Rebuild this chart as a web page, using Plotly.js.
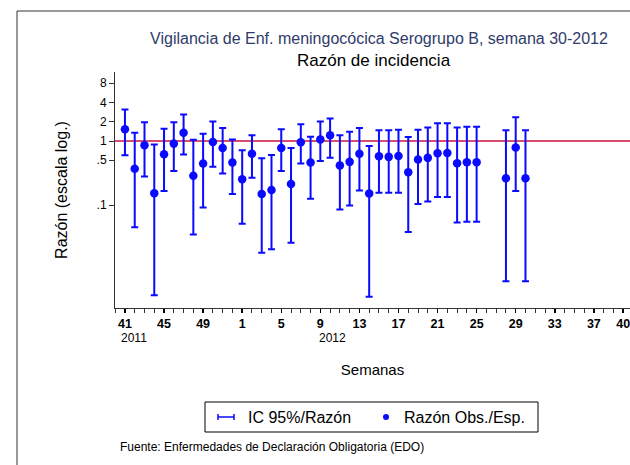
<!DOCTYPE html>
<html>
<head>
<meta charset="utf-8">
<script src="https://cdn.plot.ly/plotly-3.0.1.min.js"></script>
<style>
  html, body { margin: 0; padding: 0; background: #ffffff; }
  #chart { width: 630px; height: 465px; }
</style>
</head>
<body>
<div id="chart"></div>
<script>
// ---- Data ----
const semanas = [41,42,43,44,45,46,47,48,49,50,51,52,
                 1,2,3,4,5,6,7,8,9,10,11,12,13,14,15,16,17,18,19,20,21,22,23,24,25,
                 28,29,30];
const anios   = [2011,2011,2011,2011,2011,2011,2011,2011,2011,2011,2011,2011,
                 2012,2012,2012,2012,2012,2012,2012,2012,2012,2012,2012,2012,2012,2012,2012,2012,2012,2012,2012,2012,2012,2012,2012,2012,2012,
                 2012,2012,2012];
const razon   = [1.52,0.37,0.86,0.153,0.62,0.91,1.35,0.287,0.446,0.965,0.778,0.463,
                 0.252,0.63,0.149,0.172,0.778,0.213,0.955,0.463,1.06,1.23,0.416,0.472,0.63,0.151,
                 0.579,0.565,0.585,0.324,0.515,0.545,0.645,0.652,0.451,0.467,0.467,
                 0.261,0.79,0.261];
const icInf   = [0.60,0.045,0.28,0.0039,0.166,0.34,0.615,0.0345,0.0915,0.395,0.312,0.149,
                 0.051,0.267,0.018,0.0204,0.339,0.0257,0.446,0.125,0.485,0.545,0.0851,0.098,0.168,0.0037,
                 0.156,0.156,0.156,0.038,0.104,0.113,0.133,0.133,0.0535,0.055,0.055,
                 0.00645,0.166,0.00645];
const icSup   = [3.1,1.35,1.97,0.88,1.56,1.97,2.59,1.05,1.30,2.02,1.59,1.06,
                 0.717,1.23,0.539,0.607,1.52,0.778,1.83,1.17,2.02,2.25,1.23,1.40,1.59,0.836,
                 1.47,1.47,1.50,1.15,1.50,1.63,1.90,1.90,1.63,1.67,1.67,
                 1.47,2.36,1.47];
const xTickLabels = ['41','45','49','1','5','9','13','17','21','25','29','33','37','40'];
const xTickYears  = [2011,2011,2011,2012,2012,2012,2012,2012,2012,2012,2012,2012,2012,2012];
const yTickVals   = [0.1,0.5,1,2,4,8];
const yTickText   = ['.1','.5','1','2','4','8'];

// sequential week index starting at week 41 of 2011
function weekIndex(w, y) { return (y - 2011) * 52 + w - 41; }
const xIdx = semanas.map((w, k) => weekIndex(w, anios[k]));
const xTickVals = xTickLabels.map((t, k) => weekIndex(Number(t), xTickYears[k]));

// ---- Layout geometry helpers (pixel -> paper) ----
const W = 630, H = 465;
const M = { l: 115, r: 0, t: 72, b: 157 };
const PW = W - M.l - M.r, PH = H - M.t - M.b;
const px = x => (x - M.l) / PW;
const py = y => (H - M.b - y) / PH;

const BLUE = '#0a0aff';
const FONT = 'Arial, "Liberation Sans", sans-serif';

const traces = [{
  type: 'scatter',
  mode: 'markers',
  x: xIdx,
  y: razon,
  marker: { color: BLUE, size: 8.5 },
  error_y: {
    type: 'data',
    symmetric: false,
    array: razon.map((v, k) => icSup[k] - v),
    arrayminus: razon.map((v, k) => v - icInf[k]),
    color: BLUE,
    thickness: 2,
    width: 3.5
  },
  showlegend: false,
  hoverinfo: 'skip'
}];

const shapes = [
  // reference line at ratio = 1
  { type: 'line', xref: 'paper', yref: 'y', x0: 0, x1: 1, y0: 1, y1: 1,
    line: { color: '#cc1040', width: 1.5 }, layer: 'below' },
  // outer frame (top and left)
  { type: 'line', xref: 'paper', yref: 'paper', x0: px(17), x1: px(630), y0: py(11), y1: py(11),
    line: { color: '#333333', width: 1 } },
  { type: 'line', xref: 'paper', yref: 'paper', x0: px(17), x1: px(17), y0: py(11), y1: py(466),
    line: { color: '#333333', width: 1 } },
  // legend box
  { type: 'rect', xref: 'paper', yref: 'paper', x0: px(205), x1: px(538), y0: py(402), y1: py(432),
    line: { color: '#000000', width: 1 }, fillcolor: 'rgba(0,0,0,0)' },
  // legend key: error bar
  { type: 'line', xref: 'paper', yref: 'paper', x0: px(218), x1: px(234), y0: py(417), y1: py(417),
    line: { color: BLUE, width: 1.5 } },
  { type: 'line', xref: 'paper', yref: 'paper', x0: px(218), x1: px(218), y0: py(414), y1: py(420),
    line: { color: BLUE, width: 1.5 } },
  { type: 'line', xref: 'paper', yref: 'paper', x0: px(234), x1: px(234), y0: py(414), y1: py(420),
    line: { color: BLUE, width: 1.5 } },
  // legend key: dot
  { type: 'circle', xref: 'paper', yref: 'paper', x0: px(383), x1: px(389), y0: py(414), y1: py(420),
    line: { color: BLUE, width: 0 }, fillcolor: BLUE }
];

const annotations = [
  { text: 'Razón de incidencia', xref: 'paper', yref: 'paper', x: px(374), y: py(61),
    xanchor: 'center', yanchor: 'middle', showarrow: false,
    font: { family: FONT, size: 17, color: '#000000' } },
  { text: '2011', xref: 'x', yref: 'paper', x: 0, y: py(338), xanchor: 'left', yanchor: 'middle',
    xshift: -6, showarrow: false, font: { family: FONT, size: 12, color: '#000000' } },
  { text: '2012', xref: 'x', yref: 'paper', x: 20, y: py(338), xanchor: 'left', yanchor: 'middle',
    xshift: -3, showarrow: false, font: { family: FONT, size: 12, color: '#000000' } },
  { text: 'IC 95%/Razón', xref: 'paper', yref: 'paper', x: px(246), y: py(417),
    xanchor: 'left', yanchor: 'middle', showarrow: false,
    font: { family: FONT, size: 16, color: '#000000' } },
  { text: 'Razón Obs./Esp.', xref: 'paper', yref: 'paper', x: px(402), y: py(417),
    xanchor: 'left', yanchor: 'middle', showarrow: false,
    font: { family: FONT, size: 16, color: '#000000' } },
  { text: 'Fuente: Enfermedades de Declaración Obligatoria (EDO)', xref: 'paper', yref: 'paper',
    x: px(118), y: py(447), xanchor: 'left', yanchor: 'middle', showarrow: false,
    font: { family: FONT, size: 12, color: '#000000' } }
];

const layout = {
  width: W, height: H,
  margin: M,
  paper_bgcolor: '#ffffff',
  plot_bgcolor: '#ffffff',
  font: { family: FONT, color: '#000000' },
  showlegend: false,
  title: {
    text: 'Vigilancia de Enf. meningocócica Serogrupo B, semana 30-2012',
    font: { family: FONT, size: 16, color: '#2f3b6b' },
    xref: 'container', yref: 'container',
    x: 379 / W, y: 1 - 38 / H, xanchor: 'center', yanchor: 'middle'
  },
  xaxis: {
    range: [-1.02, 51.7],
    tickmode: 'array',
    tickvals: xTickVals,
    ticktext: xTickLabels,
    ticklabeloverflow: 'allow',
    tickfont: { family: FONT, size: 12.5, color: '#000000', weight: 'bold' },
    ticks: 'outside', ticklen: 4, tickwidth: 1.5, tickcolor: '#000000',
    minor: { tick0: 0, dtick: 1, ticks: 'outside', ticklen: 4, tickwidth: 1, tickcolor: '#333333' },
    showline: true, linecolor: '#333333', linewidth: 1,
    showgrid: false, zeroline: false,
    automargin: false,
    title: { text: 'Semanas', standoff: 34, font: { family: FONT, size: 15, color: '#000000' } }
  },
  yaxis: {
    type: 'log',
    range: [-2.609, 1.078],
    tickmode: 'array',
    tickvals: yTickVals,
    ticktext: yTickText,
    tickfont: { family: FONT, size: 12, color: '#000000' },
    ticks: 'outside', ticklen: 5, tickwidth: 1, tickcolor: '#333333',
    showline: true, linecolor: '#333333', linewidth: 1,
    showgrid: false, zeroline: false,
    automargin: false,
    title: { text: 'Razón (escala log.)', standoff: 24, font: { family: FONT, size: 16, color: '#000000' } }
  },
  shapes: shapes,
  annotations: annotations
};

Plotly.newPlot('chart', traces, layout, { staticPlot: true, displayModeBar: false });
</script>
</body>
</html>
